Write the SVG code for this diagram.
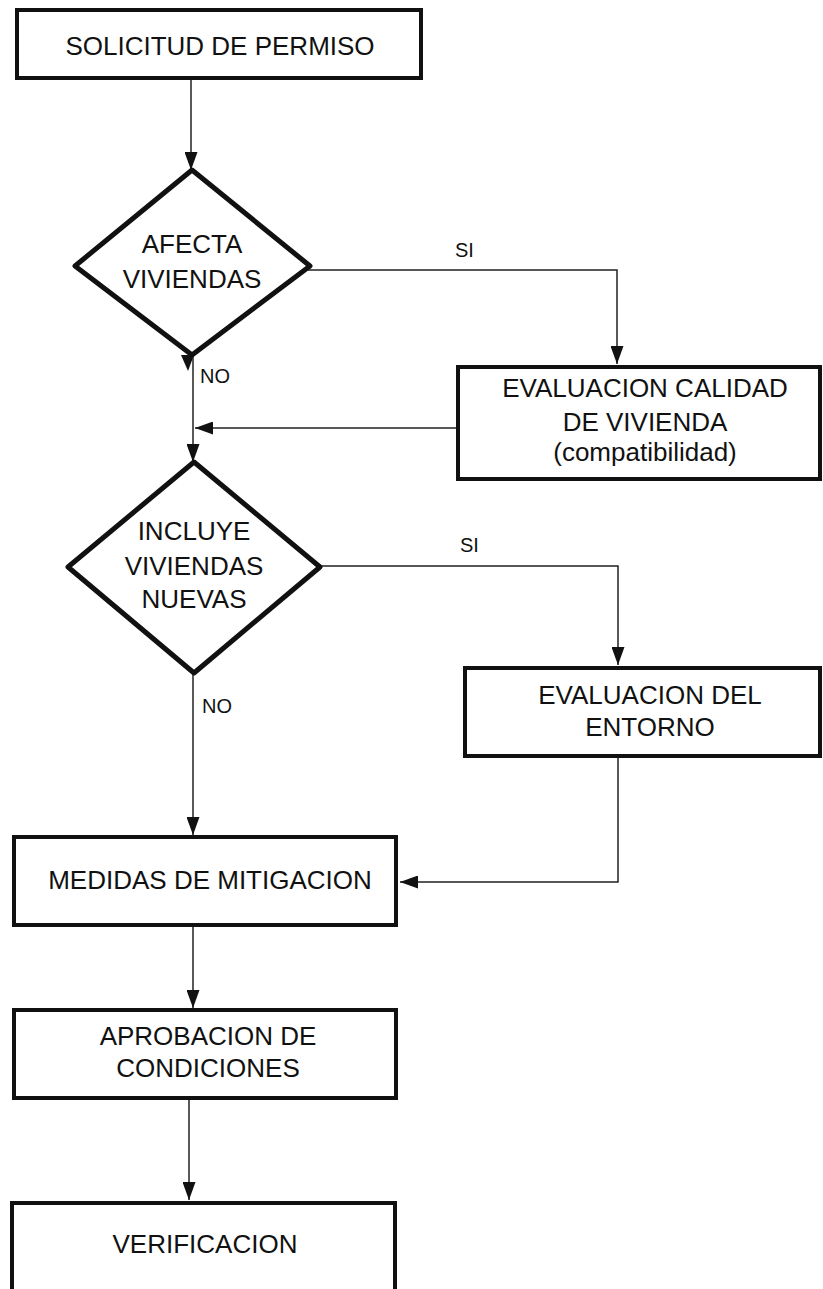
<svg xmlns="http://www.w3.org/2000/svg" width="823" height="1289" viewBox="0 0 823 1289">
<style>
.box{fill:#fff;stroke:#111;stroke-width:4}
.dia{fill:#fff;stroke:#111;stroke-width:5;stroke-linejoin:round}
.t{font-family:"Liberation Sans",Arial,sans-serif;font-size:26px;fill:#111;text-anchor:middle}
.lbl{font-family:"Liberation Sans",Arial,sans-serif;font-size:20px;fill:#111}
.c{fill:none;stroke:#222;stroke-width:1.5}
.ah{fill:#111}
</style>
<defs>
<marker id="arr" markerUnits="userSpaceOnUse" markerWidth="18" markerHeight="13" refX="18" refY="6.5" orient="auto">
<path d="M0,0 L18,6.5 L0,13 z" fill="#111"/>
</marker>
</defs>
<g id="connectors">
<path class="c" d="M191,80 V170" marker-end="url(#arr)"/>
<path class="c" d="M308,270 H617 V364" marker-end="url(#arr)"/>
<path class="ah" d="M181,355 L194,355 L188,371 z"/>
<path class="c" d="M193,356 V462" marker-end="url(#arr)"/>
<path class="c" d="M456,428 H195" marker-end="url(#arr)"/>
<path class="c" d="M318,566 H618 V665" marker-end="url(#arr)"/>
<path class="c" d="M193,673 V835" marker-end="url(#arr)"/>
<path class="c" d="M618,758 V882 H400" marker-end="url(#arr)"/>
<path class="c" d="M193,927 V1008" marker-end="url(#arr)"/>
<path class="c" d="M189,1100 V1200" marker-end="url(#arr)"/>
<text class="lbl" x="455" y="257">SI</text>
<text class="lbl" x="200" y="383">NO</text>
<text class="lbl" x="460" y="552">SI</text>
<text class="lbl" x="202" y="713">NO</text>
</g>
<g id="solicitud">
<rect class="box" x="17" y="10" width="404" height="68"/>
<text class="t" x="220" y="55">SOLICITUD DE PERMISO</text>
</g>
<g id="afecta">
<polygon class="dia" points="192,170 310,266 192,355 75,266"/>
<text class="t" x="192" y="253">AFECTA</text>
<text class="t" x="192" y="288">VIVIENDAS</text>
</g>
<g id="eval-calidad">
<rect class="box" x="458" y="367" width="362" height="112"/>
<text class="t" x="645" y="397">EVALUACION CALIDAD</text>
<text class="t" x="645" y="431">DE VIVIENDA</text>
<text class="t" x="645" y="461">(compatibilidad)</text>
</g>
<g id="incluye">
<polygon class="dia" points="194,462 320,567 194,673 68,567"/>
<text class="t" x="194" y="540">INCLUYE</text>
<text class="t" x="194" y="575">VIVIENDAS</text>
<text class="t" x="194" y="608">NUEVAS</text>
</g>
<g id="eval-entorno">
<rect class="box" x="465" y="668" width="355" height="88"/>
<text class="t" x="650" y="704">EVALUACION DEL</text>
<text class="t" x="650" y="736">ENTORNO</text>
</g>
<g id="medidas">
<rect class="box" x="14" y="837" width="382" height="88"/>
<text class="t" x="210" y="889">MEDIDAS DE MITIGACION</text>
</g>
<g id="aprobacion">
<rect class="box" x="14" y="1010" width="382" height="88"/>
<text class="t" x="208" y="1045">APROBACION DE</text>
<text class="t" x="208" y="1077">CONDICIONES</text>
</g>
<g id="verificacion">
<rect class="box" x="12" y="1203" width="383" height="100"/>
<text class="t" x="205" y="1253">VERIFICACION</text>
</g>
</svg>
